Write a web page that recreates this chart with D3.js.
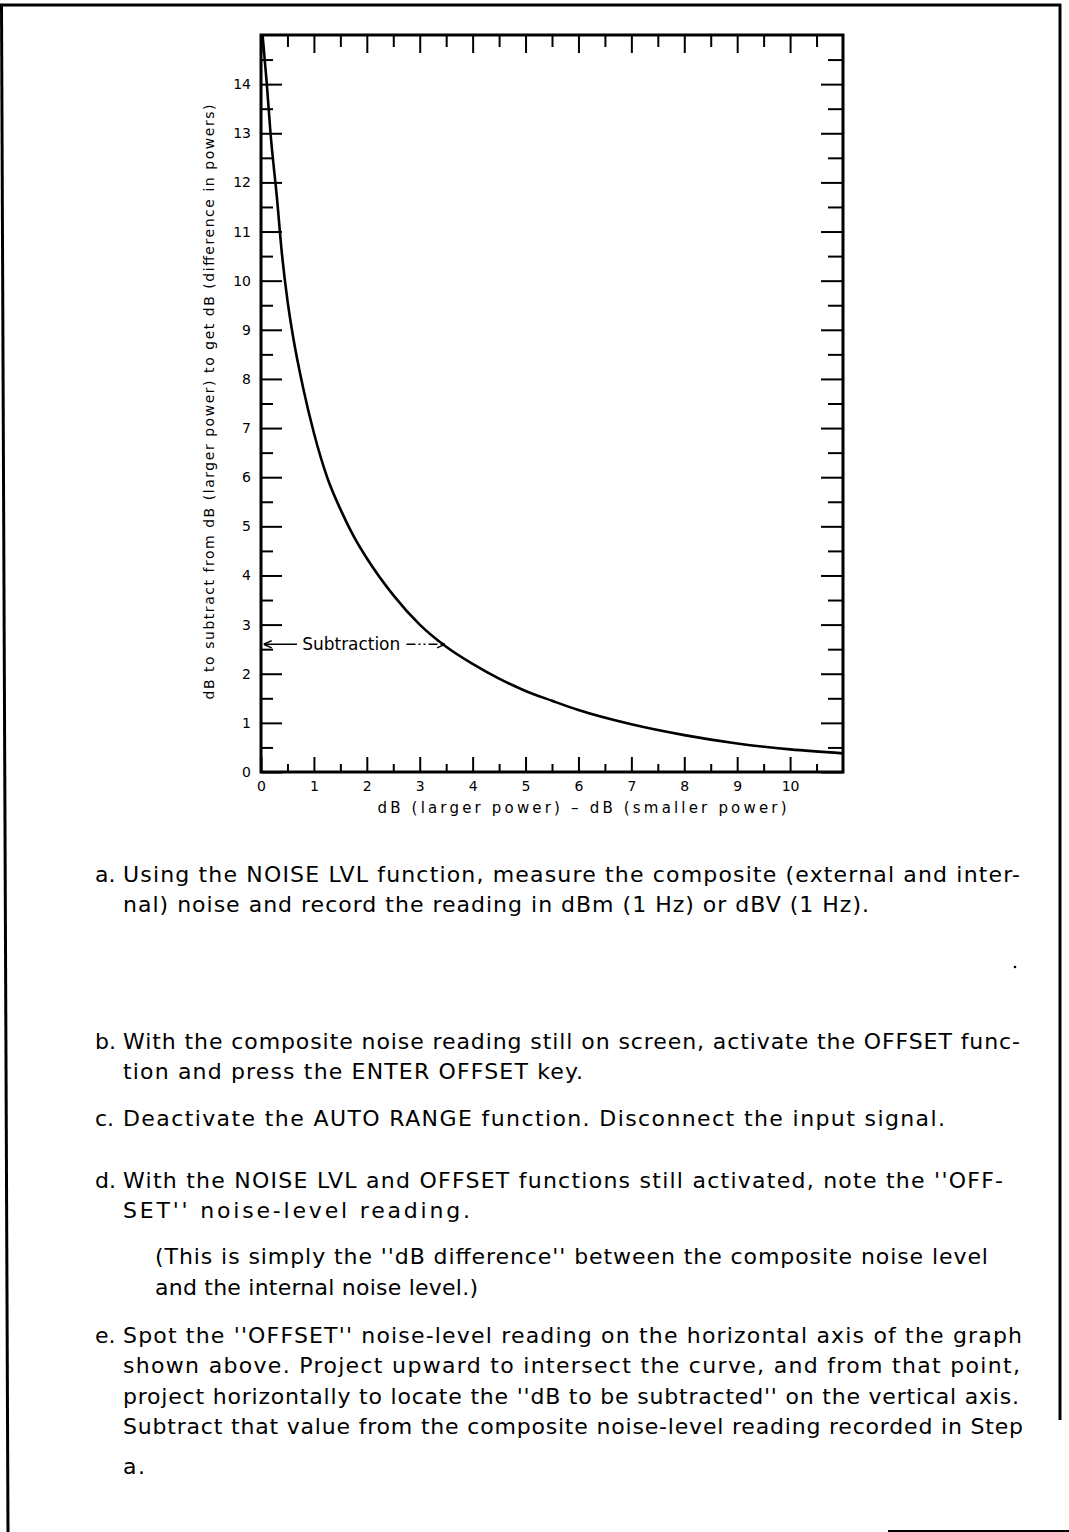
<!DOCTYPE html>
<html><head><meta charset="utf-8">
<script src="https://cdn.jsdelivr.net/npm/d3@7"></script>
<style>body{margin:0;background:#fff} svg{display:block}</style>
</head><body><svg id="c" width="1069" height="1532"></svg>
<script>
// ---------- data ----------
const xDiff = [0.03, 0.11, 0.18, 0.3, 0.4, 0.5, 0.6, 0.8, 1.0, 1.25, 1.5, 1.75, 2.0, 2.5, 3.0, 3.5, 4.0, 4.5, 5.0, 5.5, 6.0, 7.0, 8.0, 9.0, 10.0, 11.0];
const ySub  = [15.0, 14.0, 13.0, 11.7, 10.5, 9.6, 8.9, 7.8, 6.9, 6.0, 5.35, 4.8, 4.35, 3.6, 3.0, 2.55, 2.2, 1.9, 1.65, 1.45, 1.26, 0.97, 0.75, 0.58, 0.46, 0.38];
const xTickLabels = ["0","1","2","3","4","5","6","7","8","9","10"];
const yTickLabels = ["0","1","2","3","4","5","6","7","8","9","10","11","12","13","14"];
const xTitle = "dB (larger power) \u2013 dB (smaller power)";
const yTitle = "dB to subtract from dB (larger power) to get dB (difference in powers)";
const annotationText = "Subtraction";
const annotationLevel = 2.6;   // dB on vertical axis
const annotationCurveX = 3.5;  // dB on horizontal axis where arrow meets curve
const stepLabels = ["a.", "b.", "c.", "d.", "e."];
const stepA = ["Using the NOISE LVL function, measure the composite (external and inter-",
               "nal) noise and record the reading in dBm (1 Hz) or dBV (1 Hz)."];
const stepB = ["With the composite noise reading still on screen, activate the OFFSET func-",
               "tion and press the ENTER OFFSET key."];
const stepC = ["Deactivate the AUTO RANGE function. Disconnect the input signal."];
const stepD = ["With the NOISE LVL and OFFSET functions still activated, note the ''OFF-",
               "SET'' noise-level reading."];
const noteD = ["(This is simply the ''dB difference'' between the composite noise level",
               "and the internal noise level.)"];
const stepE = ["Spot the ''OFFSET'' noise-level reading on the horizontal axis of the graph",
               "shown above. Project upward to intersect the curve, and from that point,",
               "project horizontally to locate the ''dB to be subtracted'' on the vertical axis.",
               "Subtract that value from the composite noise-level reading recorded in Step",
               "a."];

// ---------- layout ----------
const FONT = "'DejaVu Sans', 'Liberation Sans', Arial, sans-serif";
const svg = d3.select("#c");
const x = d3.scaleLinear().domain([0, 11]).range([261, 843]);
const y = d3.scaleLinear().domain([0, 15]).range([772, 35]);

// page border
const border = svg.append("g").attr("stroke", "#000").attr("fill", "none");
border.append("line").attr("x1", 0).attr("y1", 5).attr("x2", 1061).attr("y2", 5).attr("stroke-width", 3);
border.append("line").attr("x1", 1.5).attr("y1", 4).attr("x2", 8).attr("y2", 1532).attr("stroke-width", 3);
border.append("line").attr("x1", 1060).attr("y1", 4).attr("x2", 1060).attr("y2", 1420).attr("stroke-width", 3);
border.append("line").attr("x1", 888).attr("y1", 1531).attr("x2", 1069).attr("y2", 1531).attr("stroke-width", 2);

// axes
const xVals = xTickLabels.map(Number);
const yVals = yTickLabels.map(Number);
const xMinor = d3.range(0.5, 11, 1);
const yMinor = d3.range(0.5, 15, 1);

function style(g) {
  g.select(".domain").remove();
  g.selectAll("line").attr("stroke", "#000").attr("stroke-width", 2);
  g.selectAll("text").attr("font-family", FONT).attr("font-size", 14).attr("fill", "#000");
}
svg.append("g").attr("transform", `translate(0,${y(0)})`)
  .call(d3.axisBottom(x).tickValues(xVals).tickSize(-15).tickPadding(9).tickFormat((d, i) => xTickLabels[i])).call(style);
svg.append("g").attr("transform", `translate(0,${y(0)})`)
  .call(d3.axisBottom(x).tickValues(xMinor).tickSize(-8).tickFormat("")).call(style);
svg.append("g").attr("transform", `translate(0,${y(15)})`)
  .call(d3.axisTop(x).tickValues(xVals).tickSize(-18).tickFormat("")).call(style);
svg.append("g").attr("transform", `translate(0,${y(15)})`)
  .call(d3.axisTop(x).tickValues(xMinor).tickSize(-12).tickFormat("")).call(style);
svg.append("g").attr("transform", `translate(${x(0)},0)`)
  .call(d3.axisLeft(y).tickValues(yVals).tickSize(-21).tickPadding(10).tickFormat((d, i) => yTickLabels[i])).call(style);
svg.append("g").attr("transform", `translate(${x(0)},0)`)
  .call(d3.axisLeft(y).tickValues(yMinor).tickSize(-12).tickFormat("")).call(style);
svg.append("g").attr("transform", `translate(${x(11)},0)`)
  .call(d3.axisRight(y).tickValues(yVals).tickSize(-22).tickFormat("")).call(style);
svg.append("g").attr("transform", `translate(${x(11)},0)`)
  .call(d3.axisRight(y).tickValues(yMinor).tickSize(-15).tickFormat("")).call(style);

// frame
svg.append("rect").attr("x", x(0)).attr("y", y(15)).attr("width", x(11) - x(0)).attr("height", y(0) - y(15))
  .attr("fill", "none").attr("stroke", "#000").attr("stroke-width", 3);

// curve
const pts = xDiff.map((d, i) => [d, ySub[i]]);
svg.append("path").datum(pts)
  .attr("d", d3.line().x(d => x(d[0])).y(d => y(d[1])).curve(d3.curveMonotoneX))
  .attr("fill", "none").attr("stroke", "#000").attr("stroke-width", 2.6);

// axis titles
svg.append("text").attr("x", 582).attr("y", 813).attr("text-anchor", "middle")
  .attr("font-family", FONT).attr("font-size", 15).attr("textLength", 409).attr("lengthAdjust", "spacing")
  .text(xTitle);
svg.append("text").attr("transform", "translate(214,402) rotate(-90)").attr("text-anchor", "middle")
  .attr("font-family", FONT).attr("font-size", 14).attr("textLength", 595).attr("lengthAdjust", "spacing")
  .text(yTitle);

// annotation
const defs = svg.append("defs");
defs.append("marker").attr("id", "ah").attr("viewBox", "0 0 10 10").attr("refX", 10).attr("refY", 5)
  .attr("markerWidth", 9).attr("markerHeight", 9).attr("markerUnits", "userSpaceOnUse").attr("orient", "auto")
  .append("path").attr("d", "M1,1 L10,5 L1,9").attr("fill", "none").attr("stroke", "#000").attr("stroke-width", 1.6);
const ay = y(annotationLevel);
svg.append("line").attr("x1", x(0.68)).attr("y1", ay).attr("x2", x(0.05)).attr("y2", ay)
  .attr("stroke", "#000").attr("stroke-width", 1.4).attr("marker-end", "url(#ah)");
svg.append("text").attr("x", x(0.78)).attr("y", ay + 6).attr("font-family", FONT).attr("font-size", 17)
  .attr("textLength", 98).attr("lengthAdjust", "spacing").text(annotationText);
svg.append("line").attr("x1", x(2.75)).attr("y1", ay).attr("x2", x(annotationCurveX) - 1).attr("y2", ay)
  .attr("stroke", "#000").attr("stroke-width", 1.4).attr("stroke-dasharray", "9,3,2,3,2,3")
  .attr("marker-end", "url(#ah)");

// small speck in the scan between steps a and b
svg.append("circle").attr("cx", 1015).attr("cy", 967).attr("r", 1.3).attr("fill", "#000");

// body text
const blocks = [
  { label: stepLabels[0], lines: stepA, x: 123, y: [882, 912], ends: [1020, 869] },
  { label: stepLabels[1], lines: stepB, x: 123, y: [1049, 1079], ends: [1020, 583] },
  { label: stepLabels[2], lines: stepC, x: 123, y: [1126], ends: [945] },
  { label: stepLabels[3], lines: stepD, x: 123, y: [1188, 1218], ends: [1003, 470] },
  { label: null, lines: noteD, x: 155, y: [1264, 1295], ends: [988, 478] },
  { label: stepLabels[4], lines: stepE, x: 123, y: [1343, 1373, 1404, 1434, 1474], ends: [1022, 1020, 1019, 1023, 145] }
];
const tg = svg.append("g").attr("font-family", FONT).attr("font-size", 22).attr("fill", "#000");
blocks.forEach(b => {
  if (b.label) tg.append("text").attr("x", 95).attr("y", b.y[0]).text(b.label);
  b.lines.forEach((t, i) => {
    tg.append("text").attr("x", b.x).attr("y", b.y[i])
      .attr("textLength", b.ends[i] - b.x).attr("lengthAdjust", "spacing").text(t);
  });
});
</script></body></html>
